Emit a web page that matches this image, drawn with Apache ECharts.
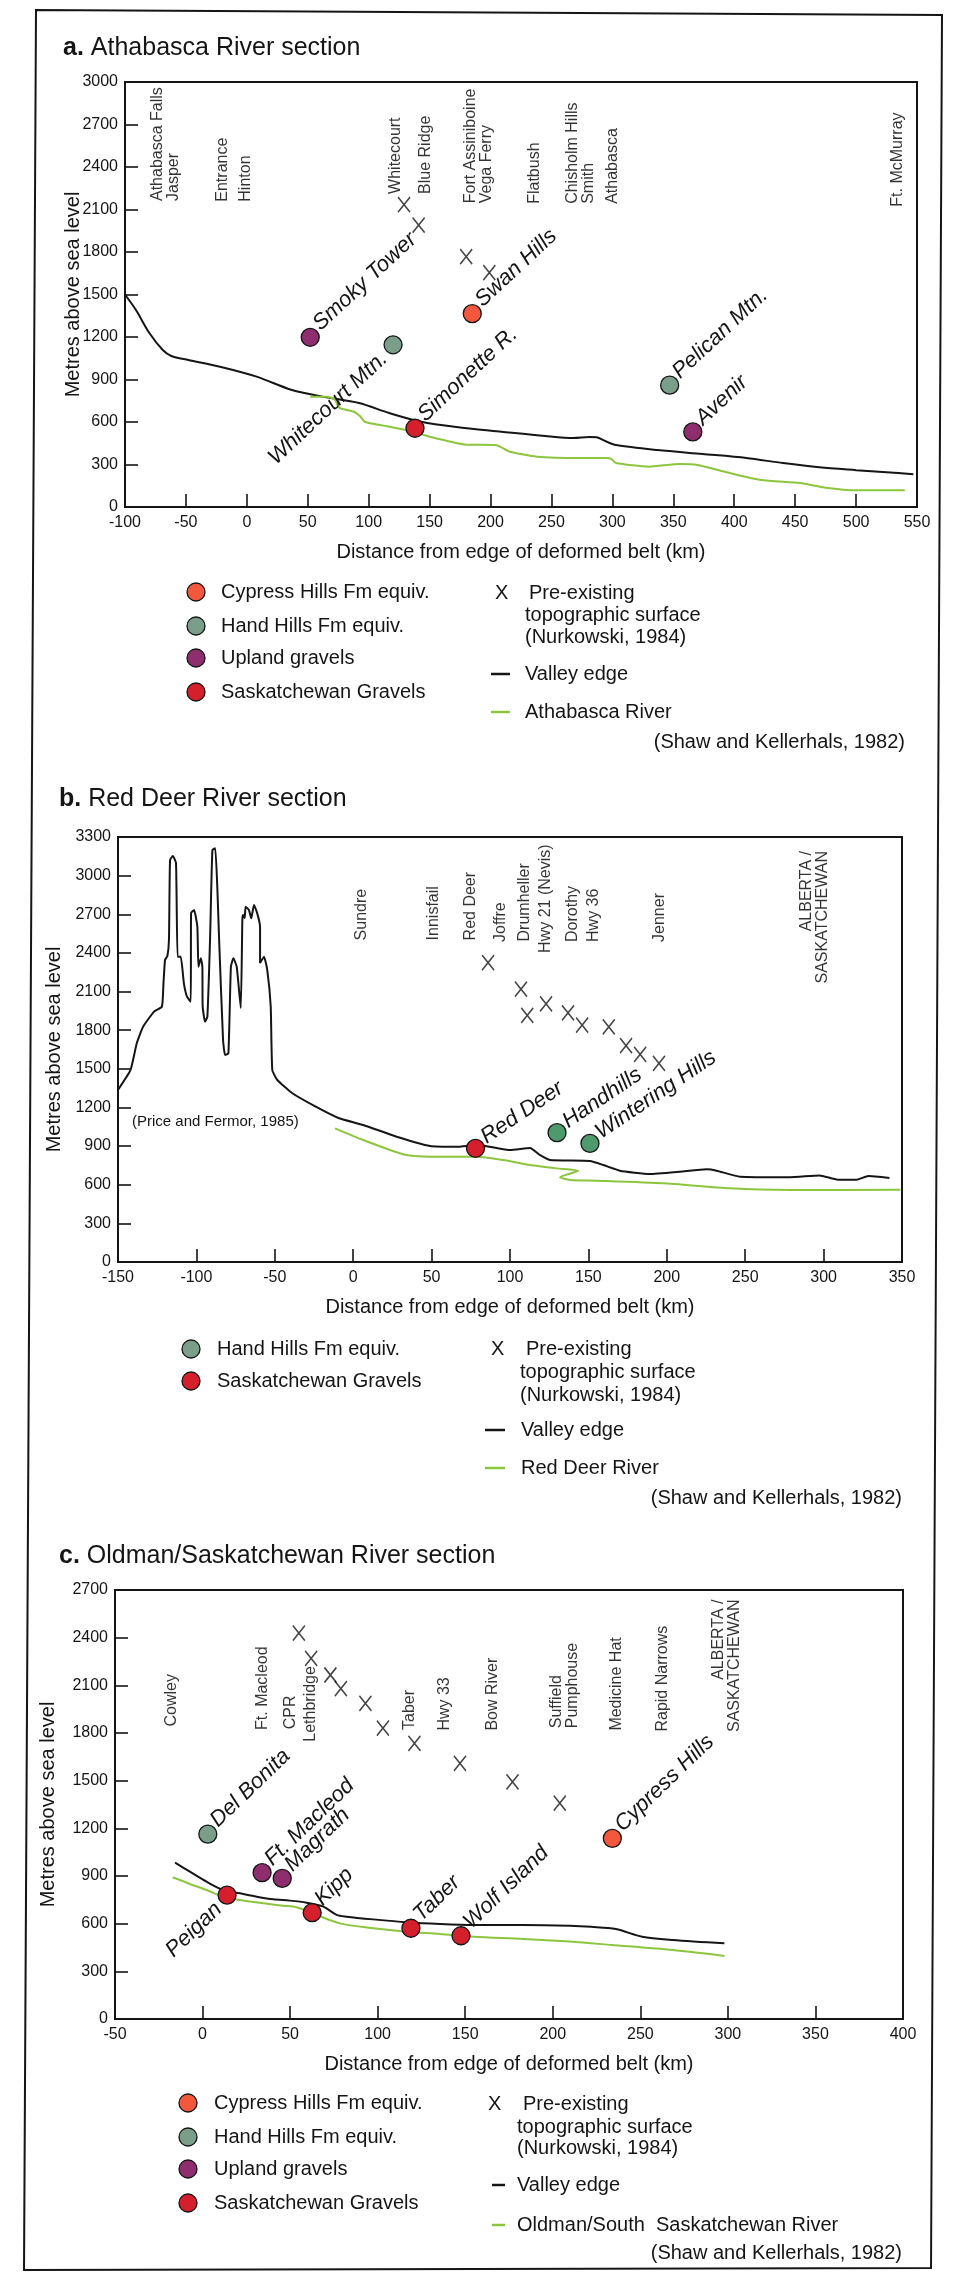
<!DOCTYPE html>
<html><head><meta charset="utf-8">
<script src="https://cdn.jsdelivr.net/npm/echarts@6.0.0/dist/echarts.min.js"></script>
<style>html,body{margin:0;padding:0;background:#fff}#c{width:959px;height:2276px}</style>
</head><body><div id="c"></div>
<script>
// ---------------- DATA ----------------
// a. Athabasca River section  [km, metres]
const aValleyEdge = [[-100,1500],[-91,1390],[-80,1228],[-69,1108],[-62,1066],[-48,1038],[-22,990],[8,920],[37,826],[62,779],[92,734],[117,663],[143,602],[172,565],[209,532],[245,501],[268,487],[281,494],[287,492],[295,462],[303,437],[337,402],[374,374],[410,346],[440,310],[470,280],[500,260],[525,245],[547,232]];
const aRiver = [[52,778],[66,778],[72,760],[76,700],[88,672],[93,640],[97,600],[114,572],[136,532],[154,487],[180,440],[203,438],[207,430],[216,390],[238,355],[275,346],[295,346],[299,340],[303,310],[330,285],[355,303],[370,296],[392,249],[422,190],[454,169],[475,136],[500,118],[540,118]];
const aCypress = [[185,1365,'Swan Hills']];
const aHandHills = [[120,1145,'Whitecourt Mtn.'],[347,860,'Pelican Mtn.']];
const aUpland = [[52,1198,'Smoky Tower'],[366,530,'Avenir']];
const aSaskGravels = [[138,556,'Simonette R.']];
const aPreExisting = [[129,2135],[141,1990],[180,1768],[199,1655]];
const aPlaces = [['Athabasca Falls\nJasper',-67,2160],['Entrance',-20,2155],['Hinton',-1,2155],['Whitecourt',122,2210],['Blue Ridge',147,2210],['Fort Assiniboine\nVega Ferry',190,2144],['Flatbush',236,2140],['Chisholm Hills\nSmith',274,2140],['Athabasca',300,2140],['Ft. McMurray',534,2120]];
const aPlacesTop = [];

// b. Red Deer River section
const bValleyEdge = [[-150,1336],[-142,1491],[-138,1700],[-134,1827],[-127,1944],[-122,1983],[-121,2164],[-120,2345],[-118.5,2376],[-117.5,2500],[-116.8,3121],[-115,3153],[-113,3098],[-112,2370],[-110,2370],[-108,2166],[-106,2060],[-103.6,2021],[-103.4,2710],[-101.5,2733],[-99.4,2604],[-98.7,2293],[-97.2,2358],[-96.2,2293],[-96,1983],[-94.5,1866],[-93,1905],[-91.3,2500],[-89.8,3199],[-88,3212],[-86.6,2889],[-85.5,2500],[-83,1724],[-81.7,1607],[-79.6,1620],[-78,2293],[-76.4,2358],[-74.3,2293],[-71.7,1972],[-70.7,2656],[-70.3,2694],[-69.2,2671],[-68.6,2759],[-66.5,2733],[-65,2669],[-63.3,2772],[-61.2,2707],[-59.4,2604],[-59.4,2322],[-56.9,2371],[-54.8,2267],[-52.6,1983],[-51.6,1491],[-48.4,1413],[-38.8,1310],[-23.9,1206],[-9,1116],[6.4,1064],[27.7,973],[49,901],[66,895],[78.8,908],[91.5,885],[100,870],[112.8,885],[119,831],[125.5,792],[151,784],[159.5,753],[170,709],[189,683],[208.4,701],[225.4,720],[231.8,709],[246.7,662],[278.6,658],[297.5,672],[309,639],[321,639],[328.6,667],[342,653]];
const bRiver = [[-11.6,1038],[6.4,947],[23.5,870],[34,831],[49,818],[78.8,818],[95.7,792],[112.8,753],[129.8,727],[143.5,709],[131.9,658],[138.3,637],[155.3,631],[197.8,611],[240.3,572],[278.6,559],[349,561]];
const bHandHills = [[130,1004,'Handhills'],[151,921,'Wintering Hills']];
const bSaskGravels = [[78,883,'Red Deer']];
const bPreExisting = [[86,2325],[107,2118],[111,1915],[123,2005],[137,1935],[146,1840],[163,1825],[174,1680],[183,1612],[195,1542]];
const bPlaces = [['Sundre',5.6,2497],['Innisfail',51,2497],['Red Deer',75,2497],['Joffre',94,2485],['Drumheller',109,2489],['Hwy 21 (Nevis)',123,2400],['Dorothy',140,2485],['Hwy 36',153,2485],['Jenner',195.5,2485]];
const bPlacesTop = [['ALBERTA /\nSASKATCHEWAN',294,3191]];

// c. Oldman/Saskatchewan River section
const cValleyEdge = [[-15.7,984],[-7.2,927],[2.3,864],[11.8,812],[21.4,791],[30.9,770],[40.4,753],[49.9,745],[59.4,732],[69,707],[76.6,655],[82.3,644],[97.5,627],[116.6,609],[135.6,598],[154.7,592],[183.2,592],[209.8,587],[222,580],[236,566],[251,518],[268.5,497],[298,476]];
const cRiver = [[-17,892],[-7.2,850],[2.3,812],[11.8,770],[21.4,749],[34.7,728],[46.1,713],[53.7,703],[65.1,655],[78.4,602],[97.5,571],[116.6,549],[135.6,535],[154.7,518],[183.2,504],[209.8,487],[233.6,466],[268.5,434],[298,397]];
const cCypress = [[234,1137,'Cypress Hills']];
const cHandHills = [[3,1164,'Del Bonita']];
const cUpland = [[34,921,'Ft. Macleod'],[45.5,885,'Magrath']];
const cSaskGravels = [[14,780,'Peigan'],[62.6,669,'Kipp'],[119,571,'Taber'],[147.6,524,'Wolf Island']];
const cPreExisting = [[55,2428],[62,2270],[73,2165],[79,2080],[93,1987],[103,1830],[121,1735],[147,1609],[177,1493],[204,1358]];
const cPlaces = [['Cowley',-17.8,1841],['Ft. Macleod',34.2,1819],['CPR',50.5,1823],['Lethbridge',61.7,1745],['Taber',118.1,1819],['Hwy 33',138.3,1815],['Bow River',165.8,1815],['Suffield\nPumphouse',206.9,1830],['Medicine Hat',236.5,1815],['Rapid Narrows',262.7,1809]];
const cPlacesTop = [['ALBERTA /\nSASKATCHEWAN',299,2640]];

// axes / texts
const xRanges = [[-100,550],[-150,350],[-50,400]];
const yMax = [3000,3300,2700];
const titles = [['a.',' Athabasca River section'],['b.',' Red Deer River section'],['c.',' Oldman/Saskatchewan River section']];
const xAxisTitle = 'Distance from edge of deformed belt (km)';
const yAxisTitle = 'Metres above sea level';
const legendPointNames = ['Cypress Hills Fm equiv.','Hand Hills Fm equiv.','Upland gravels','Saskatchewan Gravels'];
const legendXLines = ['Pre-existing','topographic surface','(Nurkowski, 1984)'];
const riverNames = ['Athabasca River','Red Deer River','Oldman/South  Saskatchewan River'];
const sourceNote = '(Shaw and Kellerhals, 1982)';
const priceNote = '(Price and Fermor, 1985)';

// ---------------- STYLE / LAYOUT ----------------
const FONT = '"Liberation Sans", Arial, Helvetica, sans-serif';
const INK = '#151515';
const C_CYP = '#f4583c', C_HH = '#7a9e8a', C_HH_B = '#4f9a6c', C_UP = '#8e2e6e', C_SK = '#d51f2c', C_RIV = '#8cc63f';
const gridBoxes = [
  {left:125, top:82, width:792, height:425},
  {left:118, top:837, width:784, height:425},
  {left:115, top:1590, width:788, height:429}
];
const yNameGap = [42, 54, 57];
const labelAngle = [43, 34, 44];
const lowerLeft = ['Whitecourt Mtn.','Peigan'];

const chart = echarts.init(document.getElementById('c'), null, {renderer:'canvas'});

const grid = gridBoxes.map(g => Object.assign({show:true, borderColor:INK, borderWidth:2, backgroundColor:'transparent', containLabel:false, outerBoundsMode:'none'}, g));
const xAxis = xRanges.map((r,i) => ({
  type:'value', gridIndex:i, min:r[0], max:r[1], interval:50,
  axisLine:{show:true, onZero:false, lineStyle:{color:INK, width:2}},
  axisTick:{show:true, inside:true, length:13, lineStyle:{color:INK, width:1.6}},
  axisLabel:{fontSize:16, color:INK, margin:8, fontFamily:FONT, formatter:v => String(v)},
  splitLine:{show:false},
  name:xAxisTitle, nameLocation:'middle', nameGap:35, nameMoveOverlap:false,
  nameTextStyle:{fontSize:20, color:INK, fontFamily:FONT}
}));
const yAxis = yMax.map((m,i) => ({
  type:'value', gridIndex:i, min:0, max:m, interval:300,
  axisLine:{show:true, onZero:false, lineStyle:{color:INK, width:2}},
  axisTick:{show:true, inside:true, length:13, lineStyle:{color:INK, width:1.6}},
  axisLabel:{fontSize:16, color:INK, margin:7, fontFamily:FONT, formatter:v => String(v)},
  splitLine:{show:false},
  name:yAxisTitle, nameLocation:'middle', nameGap:yNameGap[i], nameRotate:90, nameMoveOverlap:false,
  nameTextStyle:{fontSize:20, color:INK, fontFamily:FONT}
}));

function lineSeries(gi, data, color, smooth, z) {
  return {type:'line', xAxisIndex:gi, yAxisIndex:gi, data:data, symbol:'none', showSymbol:false,
    smooth:smooth, lineStyle:{color:color, width:2}, z:z, silent:true, animation:false};
}
function pointSeries(gi, data, color) {
  const ang = labelAngle[gi];
  return {type:'scatter', xAxisIndex:gi, yAxisIndex:gi, symbol:'circle', symbolSize:18, z:6, animation:false,
    itemStyle:{color:color, borderColor:INK, borderWidth:1.3, opacity:1},
    data:data.map(d => {
      const ll = lowerLeft.indexOf(d[2]) >= 0;
      const phi = (ang + 12) * Math.PI / 180;
      const dist = ll ? 14 : 12;
      const dx = (ll ? -1 : 1) * dist * Math.cos(phi);
      const dy = (ll ? 1 : -1) * dist * Math.sin(phi);
      return {value:[d[0], d[1]], name:d[2], label:{show:true, formatter:d[2], position:[9 + dx, 9 + dy],
        rotate:ang, align:ll ? 'right' : 'left', verticalAlign:'middle', fontSize:22, fontStyle:'italic',
        color:INK, fontFamily:FONT}};
    })};
}
function xSeries(gi, data) {
  return {type:'scatter', xAxisIndex:gi, yAxisIndex:gi, symbol:'path://M0,0L10,13M10,0L0,13', symbolSize:[12,15],
    z:5, animation:false, silent:true,
    itemStyle:{color:'rgba(0,0,0,0)', borderColor:INK, borderWidth:1.6}, data:data};
}
function placeSeries(gi, data, topAnchored) {
  return {type:'scatter', xAxisIndex:gi, yAxisIndex:gi, symbolSize:1, z:4, silent:true, animation:false,
    itemStyle:{color:'rgba(0,0,0,0)'},
    data:data.map(d => ({value:[d[1], d[2]], label:{show:true, formatter:d[0], position:'inside', rotate:90,
      align:topAnchored ? 'right' : 'left', verticalAlign:'middle', fontSize:16, lineHeight:16,
      color:'#000', fontFamily:FONT}}))};
}

const series = [
  lineSeries(0, aValleyEdge, INK, 0.3, 2), lineSeries(0, aRiver, C_RIV, 0.2, 3),
  pointSeries(0, aCypress, C_CYP), pointSeries(0, aHandHills, C_HH), pointSeries(0, aUpland, C_UP), pointSeries(0, aSaskGravels, C_SK),
  xSeries(0, aPreExisting), placeSeries(0, aPlaces, false), placeSeries(0, aPlacesTop, true),

  lineSeries(1, bValleyEdge, INK, 0.15, 2), lineSeries(1, bRiver, C_RIV, 0.2, 3),
  pointSeries(1, bHandHills, C_HH_B), pointSeries(1, bSaskGravels, C_SK),
  xSeries(1, bPreExisting), placeSeries(1, bPlaces, false), placeSeries(1, bPlacesTop, true),

  lineSeries(2, cValleyEdge, INK, 0.3, 2), lineSeries(2, cRiver, C_RIV, 0.3, 3),
  pointSeries(2, cCypress, C_CYP), pointSeries(2, cHandHills, C_HH), pointSeries(2, cUpland, C_UP), pointSeries(2, cSaskGravels, C_SK),
  xSeries(2, cPreExisting), placeSeries(2, cPlaces, false), placeSeries(2, cPlacesTop, true)
];

// titles
const titleLayout = [[58,31],[54,782],[54,1539]];
const title = titles.map((t,i) => ({
  text:'{b|' + t[0] + '}' + t[1], left:titleLayout[i][0], top:titleLayout[i][1],
  textStyle:{fontSize:25, fontWeight:'normal', color:INK, fontFamily:FONT,
    rich:{b:{fontSize:25, fontWeight:'bold', color:INK, fontFamily:FONT}}}
}));

// legends (graphic)
const graphic = [];
function txt(x, y, s, size, align) {
  graphic.push({type:'text', x:x, y:y, silent:true, style:{text:s, font:size + 'px ' + FONT, fill:INK, textAlign:align || 'left', textVerticalAlign:'middle', verticalAlign:'middle'}});
}
function dot(cx, cy, fill) {
  graphic.push({type:'circle', silent:true, shape:{cx:cx, cy:cy, r:9}, style:{fill:fill, stroke:INK, lineWidth:1.3}});
}
function seg(x1, x2, y, color) {
  graphic.push({type:'line', silent:true, shape:{x1:x1, y1:y, x2:x2, y2:y}, style:{stroke:color, lineWidth:2.5}});
}
const pointColors = [C_CYP, C_HH, C_UP, C_SK];
const legendCfg = [
  {which:[0,1,2,3], cx:196, tx:221, rows:[592,626,658,692], xx:495, xy:593, t1:529, t2:525, ty:[593,615,637], lx:[491,510], ltx:525, ly:[674,712], shaw:[905,742]},
  {which:[1,3], cx:191, tx:217, rows:[1349,1381], xx:491, xy:1349, t1:526, t2:520, ty:[1349,1372,1395], lx:[485,505], ltx:521, ly:[1430,1468], shaw:[902,1498]},
  {which:[0,1,2,3], cx:188, tx:214, rows:[2103,2137,2169,2203], xx:488, xy:2104, t1:523, t2:517, ty:[2104,2127,2148], lx:[492,505], ltx:517, ly:[2185,2225], shaw:[902,2253]}
];
legendCfg.forEach((L, i) => {
  L.which.forEach((w, k) => { dot(L.cx, L.rows[k], pointColors[w]); txt(L.tx, L.rows[k], legendPointNames[w], 20); });
  txt(L.xx, L.xy, 'X', 20);
  legendXLines.forEach((s, k) => txt(k === 0 ? L.t1 : L.t2, L.ty[k], s, 20));
  seg(L.lx[0], L.lx[1], L.ly[0], INK); txt(L.ltx, L.ly[0], 'Valley edge', 20);
  seg(L.lx[0], L.lx[1], L.ly[1], C_RIV); txt(L.ltx, L.ly[1], riverNames[i], 20);
  txt(L.shaw[0], L.shaw[1], sourceNote, 20, 'right');
});
txt(132, 1122, priceNote, 15);
graphic.push({type:'polygon', silent:true, z:-1, shape:{points:[[36,10],[942,15],[931,2268],[24,2270]]}, style:{fill:'none', stroke:INK, lineWidth:2}});

chart.setOption({
  animation:false, backgroundColor:'#ffffff',
  textStyle:{fontFamily:FONT},
  title:title, grid:grid, xAxis:xAxis, yAxis:yAxis, series:series, graphic:graphic
});
</script></body></html>
